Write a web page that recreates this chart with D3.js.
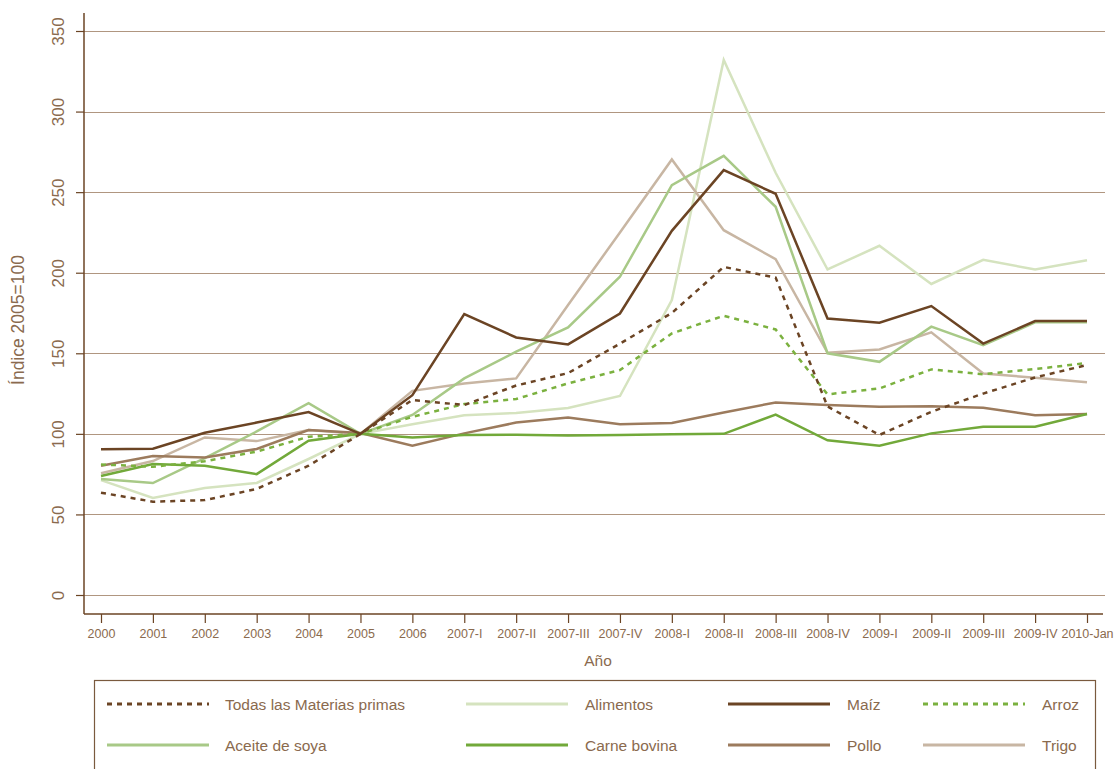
<!DOCTYPE html>
<html>
<head>
<meta charset="utf-8">
<script src="https://cdn.jsdelivr.net/npm/d3@7"></script>
<style>
  html, body { margin: 0; padding: 0; background: #ffffff; }
  svg { display: block; }
  text { font-family: "Liberation Sans", Arial, sans-serif; fill: #8a6a4e; }
</style>
</head>
<body>
<svg id="chart" width="1115" height="769"></svg>
<script>
// ---------- data ----------
const categories = ["2000","2001","2002","2003","2004","2005","2006","2007-I","2007-II","2007-III","2007-IV","2008-I","2008-II","2008-III","2008-IV","2009-I","2009-II","2009-III","2009-IV","2010-Jan"];
const yTicks = [0, 50, 100, 150, 200, 250, 300, 350];

const todas     = [63.5, 57.9, 58.9, 65.8, 80.2, 100, 121, 117.9, 130, 137.7, 156, 175, 203.6, 197, 117, 99.3, 113.7, 125, 135, 142.7];
const alimentos = [71.3, 60.2, 66.4, 69.5, 84.4, 100, 106, 111.6, 113, 116, 123.5, 183, 332, 262, 202, 216.7, 193, 208, 202, 207.8];
const maiz      = [90.4, 90.8, 100.7, 107, 113.5, 100, 124, 174.3, 159.8, 155.5, 174.7, 226, 263.7, 249, 171.6, 169, 179.3, 156, 170, 170];
const arroz     = [81, 79.6, 83, 89, 98.2, 100, 110.6, 118.5, 121.6, 131.3, 139.6, 162.3, 173.3, 164.8, 124.5, 128.2, 140, 137, 140.2, 144];
const aceite    = [72, 69.5, 85, 101.5, 119, 100, 111.7, 134.4, 151, 166, 197.5, 254.3, 272.5, 240.9, 150, 144.7, 166.5, 155, 169.2, 169.2];
const carne     = [73.8, 81.3, 80.2, 75, 95.7, 100, 97.8, 99.3, 99.5, 99, 99.3, 99.7, 100, 112, 96, 92.6, 100.3, 104.4, 104.4, 112.3];
const pollo     = [80.2, 86.2, 85.4, 90.6, 102.4, 100.5, 92.6, 100.3, 107, 110.2, 105.9, 106.7, 113.3, 119.5, 117.9, 116.8, 117.2, 116.2, 111.5, 112.3];
const trigo     = [75.5, 83.1, 97.8, 95.5, 102.4, 100, 126.7, 131.3, 134.4, 180, 225, 270.3, 226.4, 208.4, 150.3, 152.4, 163, 137.5, 134.8, 132];

const seriesNames = ["Todas las Materias primas","Alimentos","Maíz","Arroz","Aceite de soya","Carne bovina","Pollo","Trigo"];
const seriesValues = [todas, alimentos, maiz, arroz, aceite, carne, pollo, trigo];
const seriesColors = ["#6b4424","#d5e3bf","#6b4424","#7bb13f","#a8c987","#72a93a","#9c7b5d","#c8b6a3"];
const seriesDashed = [true, false, false, true, false, false, false, false];

// ---------- layout ----------
const svg = d3.select("#chart");
const xLeft = 84, xRight = 1105, yBottomAxis = 614;

const x = d3.scalePoint().domain(categories).range([101, 1087]);
const y = d3.scaleLinear().domain([0, 350]).range([595, 31]);

// gridlines
svg.append("g").selectAll("line").data(yTicks).join("line")
  .attr("x1", xLeft).attr("x2", xRight)
  .attr("y1", d => Math.round(y(d)) + 0.5).attr("y2", d => Math.round(y(d)) + 0.5)
  .attr("stroke", "#b09680").attr("stroke-width", 1);

// y axis
const yAxis = d3.axisLeft(y).tickValues(yTicks).tickSize(8).tickSizeOuter(0).tickPadding(0);
const gy = svg.append("g").attr("transform", `translate(${xLeft},0)`).call(yAxis);
gy.select(".domain").remove();
gy.selectAll(".tick line").attr("stroke", "#6b4424").attr("stroke-width", 1.2);
gy.selectAll(".tick text")
  .attr("transform", "translate(-20,0) rotate(-90)")
  .attr("x", 0).attr("y", 0).attr("dy", "0")
  .attr("text-anchor", "middle")
  .style("font-size", "17px").style("fill", "#8a6a4e");
svg.append("line").attr("x1", xLeft).attr("x2", xLeft).attr("y1", 13).attr("y2", yBottomAxis)
  .attr("stroke", "#6b4424").attr("stroke-width", 1.5);

// x axis
const xAxis = d3.axisBottom(x).tickSize(9).tickSizeOuter(0).tickPadding(6);
const gx = svg.append("g").attr("transform", `translate(0,${yBottomAxis})`).call(xAxis);
gx.select(".domain").remove();
gx.selectAll(".tick line").attr("stroke", "#6b4424").attr("stroke-width", 1.2);
gx.selectAll(".tick text").style("font-size", "12.5px").style("fill", "#8a6a4e").attr("y", 15);
svg.append("line").attr("x1", xLeft).attr("x2", 1103).attr("y1", yBottomAxis).attr("y2", yBottomAxis)
  .attr("stroke", "#6b4424").attr("stroke-width", 1.5);

// axis titles
svg.append("text").attr("transform", "translate(24,320) rotate(-90)")
  .attr("text-anchor", "middle").style("font-size", "17.5px").text("Índice 2005=100");
svg.append("text").attr("x", 598).attr("y", 666)
  .attr("text-anchor", "middle").style("font-size", "15.5px").text("Año");

// lines
const line = d3.line().x((d, i) => x(categories[i])).y(d => y(d));
const drawOrder = [1, 7, 4, 6, 5, 3, 2, 0];
drawOrder.forEach(k => {
  svg.append("path")
    .datum(seriesValues[k])
    .attr("d", line)
    .attr("fill", "none")
    .attr("stroke", seriesColors[k])
    .attr("stroke-width", 2.5)
    .attr("stroke-linejoin", "miter")
    .attr("stroke-dasharray", seriesDashed[k] ? "5,5" : null);
});

// legend
svg.append("rect").attr("x", 94.5).attr("y", 680.5).attr("width", 1001).attr("height", 120)
  .attr("fill", "none").attr("stroke", "#7a5a3e").attr("stroke-width", 1.2);
const legCols = [{lx: 107, tx: 225}, {lx: 466, tx: 585}, {lx: 728, tx: 847}, {lx: 923, tx: 1042}];
const legRows = [704, 745];
seriesNames.forEach((name, i) => {
  const c = legCols[i % 4], r = legRows[Math.floor(i / 4)];
  svg.append("line").attr("x1", c.lx).attr("x2", c.lx + 102).attr("y1", r).attr("y2", r)
    .attr("stroke", seriesColors[i]).attr("stroke-width", 3)
    .attr("stroke-dasharray", seriesDashed[i] ? "5,5" : null);
  svg.append("text").attr("x", c.tx).attr("y", r + 5.5)
    .style("font-size", "15.5px").text(name);
});
</script>
</body>
</html>
